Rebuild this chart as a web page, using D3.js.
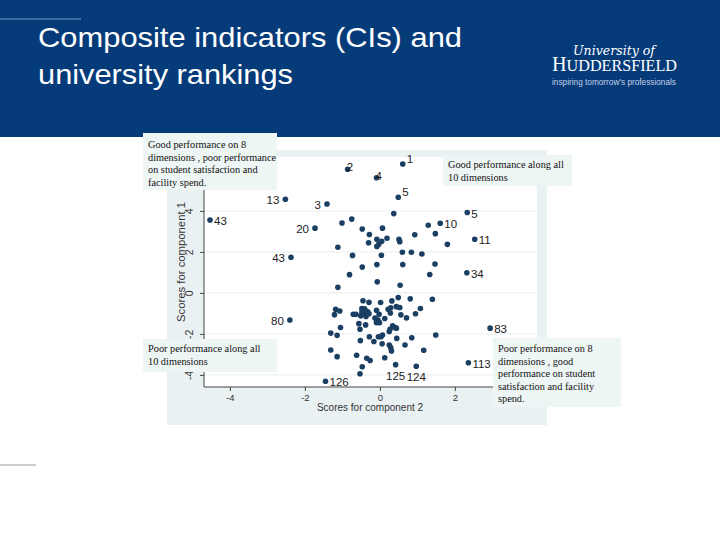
<!DOCTYPE html>
<html>
<head>
<meta charset="utf-8">
<script src="https://cdn.jsdelivr.net/npm/d3@7"></script>
<style>
  body { margin: 0; background: #fff; }
  text { font-family: Arial, "Liberation Sans", sans-serif; }
  .note { font-family: "Times New Roman", "Liberation Serif", serif; font-size: 10.3px; fill: #111; }
</style>
</head>
<body>
<script>
//== SLIDE TEXT ==//
const titleLines = ["Composite indicators (CIs) and", "university rankings"];
const xTitle = "Scores for component 2";
const yTitle = "Scores for component 1";
const xTicks = [-4, -2, 0, 2];
const yTicks = [-4, -2, 0, 2, 4];

//== LABELLED UNIVERSITIES (score comp 2, score comp 1) ==//
const labText = ["1", "2", "4", "5", "13", "3", "43", "20", "5", "10", "11", "34", "43", "80", "83", "113", "125", "124", "126"];
const labX = [0.61, -0.86, -0.09, 0.49, -2.52, -1.41, -4.53, -1.73, 2.33, 1.61, 2.53, 2.32, -2.37, -2.40, 2.94, 2.36, 0.42, 0.97, -1.45];
const labY = [6.29, 6.03, 5.62, 4.67, 4.57, 4.34, 3.56, 3.16, 3.92, 3.40, 2.62, 0.98, 1.74, -1.32, -1.72, -3.41, -3.50, -3.58, -4.31];

//== OTHER UNIVERSITIES ==//
const ptX = [-1.01, -0.75, 0.37, 1.29, -0.47, 0.07, -0.28, -0.08, 0.19, 0.05, 0.51, 0.53, 0.93, -1.12, -0.30, -0.08, -0.03, 1.48, 1.80,
  -0.73, 0.04, 0.60, 0.84, 1.12, -0.47, -0.08, 0.61, 1.47, -0.81, 1.33, -0.07, -1.12, 0.54,
  -0.45, -0.29, 0.02, 0.32, 0.49, 0.81, 1.40, -1.18, -1.07, -1.21,
  -0.48, -0.41, -0.36, -0.32, -0.48, -0.40, -0.51, -0.37, -0.29, -0.71, -0.64, -0.09, -0.02,
  0.22, 0.29, 0.44, 0.53, 1.08, 0.28, 0.56, 0.71, 0.95, -0.13, -0.05, -0.09, -0.01, 0.13,
  -0.56, -0.38, 0.34, 0.40, 0.44, 0.27, 0.25, -1.05, -0.53, -1.31, -1.14, 0.07, 0.03, -0.04, -0.28,
  0.45, 0.85, 1.49, -0.52, -0.16, 0.06, 0.25, 0.29, 0.31, 0.67, -1.31, 1.17, -0.62, -1.14, -0.35, -0.26, 0.13, -0.47, -0.53];
const ptY = [3.41, 3.60, 3.87, 3.30, 3.12, 3.16, 2.85, 2.62, 2.67, 2.52, 2.61, 2.50, 2.84, 2.23, 2.45, 2.27, 2.37, 2.89, 2.37,
  1.83, 1.84, 1.98, 1.98, 1.90, 1.26, 1.38, 1.38, 1.41, 0.89, 0.90, 0.54, 0.27, 0.37,
  -0.38, -0.46, -0.47, -0.39, -0.23, -0.29, -0.31, -0.80, -0.88, -1.06,
  -0.76, -0.78, -0.88, -0.93, -0.93, -1.02, -1.12, -1.15, -1.02, -1.04, -1.04, -0.85, -1.04,
  -0.80, -0.73, -0.67, -0.71, -0.76, -0.98, -1.07, -1.22, -1.02, -1.23, -1.33, -1.45, -1.45, -1.25,
  -1.50, -1.56, -1.60, -1.69, -1.72, -1.77, -1.88, -1.69, -1.77, -1.96, -2.07, -2.05, -2.14, -2.14, -2.14,
  -2.22, -2.19, -2.05, -2.33, -2.37, -2.48, -2.54, -2.67, -2.83, -2.54, -2.79, -2.80, -3.04, -3.11, -3.19, -3.30, -3.16, -3.60, -3.94];

//== NOTE BOXES ==//
const noteTopLeft = ["Good performance on 8", "dimensions , poor performance", "on student satisfaction and", "facility spend."];
const noteTopRight = ["Good performance along all", "10 dimensions"];
const noteBottomLeft = ["Poor performance along all", "10 dimensions"];
const noteBottomRight = ["Poor performance on 8", "dimensions , good", "performance on student", "satisfaction and facility", "spend."];

//=SVG AREA=//
const width = 720;
const height = 540;
const svg = d3.select("body").append("svg")
  .attr("width", width)
  .attr("height", height);

//header band
svg.append("rect").attr("x", 0).attr("y", 0).attr("width", width).attr("height", 137).attr("fill", "#063b7a");
svg.append("line").attr("x1", 0).attr("x2", 81).attr("y1", 19).attr("y2", 19)
  .attr("stroke", "#7d9ccc").attr("stroke-width", 1);
svg.append("line").attr("x1", 0).attr("x2", 36).attr("y1", 465).attr("y2", 465)
  .attr("stroke", "#9a9a9a").attr("stroke-width", 1);

const titleWidths = [424, 255];
svg.append("g").selectAll("text")
  .data(titleLines)
  .enter()
  .append("text")
  .attr("x", 38)
  .attr("y", (d, i) => 47 + i * 37)
  .attr("textLength", (d, i) => titleWidths[i])
  .attr("lengthAdjust", "spacingAndGlyphs")
  .attr("fill", "#fff")
  .style("font-size", "28px")
  .text(d => d);

//logo
const logo = svg.append("g").attr("fill", "#fff");
logo.append("text").attr("x", 573).attr("y", 55)
  .attr("textLength", 82).attr("lengthAdjust", "spacingAndGlyphs")
  .style("font-family", "'DejaVu Serif', serif").style("font-style", "italic").style("font-size", "13px")
  .text("University of");
const hud = logo.append("text").attr("x", 552).attr("y", 71)
  .attr("textLength", 125).attr("lengthAdjust", "spacingAndGlyphs")
  .style("font-family", "'Liberation Serif', serif");
hud.append("tspan").style("font-size", "20px").text("H");
hud.append("tspan").style("font-size", "16px").text("UDDERSFIELD");
logo.append("text").attr("x", 552).attr("y", 85)
  .attr("textLength", 124).attr("lengthAdjust", "spacingAndGlyphs")
  .attr("fill", "#c2d0e6").style("font-size", "9px")
  .text("inspiring tomorrow's professionals");

//== STATA-STYLE GRAPH ==//
svg.append("rect").attr("x", 167).attr("y", 150).attr("width", 380).attr("height", 275).attr("fill", "#eaf1f2");
svg.append("rect").attr("x", 204).attr("y", 157).attr("width", 333).attr("height", 230).attr("fill", "#fff");

const x = d3.scaleLinear().domain([-4.69, 4.19]).range([204, 537]);
const y = d3.scaleLinear().domain([-4.59, 6.63]).range([387, 157]);

//gridlines
svg.append("g").selectAll("line")
  .data(yTicks)
  .enter()
  .append("line")
  .attr("x1", 204).attr("x2", 537)
  .attr("y1", d => y(d)).attr("y2", d => y(d))
  .attr("stroke", "#e6eef0").attr("stroke-width", 1);

const xAxis = d3.axisBottom(x).tickValues(xTicks).tickSize(4).tickPadding(3).tickFormat(d => String(d));
const yAxis = d3.axisLeft(y).tickValues(yTicks).tickSize(4).tickPadding(3).tickFormat(d => String(d));

const gx = svg.append("g").attr("transform", "translate(0,387)").call(xAxis);
const gy = svg.append("g").attr("transform", "translate(204,0)").call(yAxis);
gx.select(".domain").attr("d", "M204,0H537");
gy.select(".domain").attr("d", "M0,157V387");
[gx, gy].forEach(g => {
  g.selectAll(".domain, .tick line").attr("stroke", "#444");
  g.selectAll(".tick text").attr("fill", "#333").style("font-size", "9.5px").style("font-family", "Arial, 'Liberation Sans', sans-serif");
});
gy.selectAll(".tick text")
  .attr("transform", "rotate(-90)")
  .attr("x", 0).attr("dx", 0)
  .attr("y", -11).attr("dy", 0)
  .attr("text-anchor", "middle")
  .style("font-size", "10.5px");

svg.append("text").attr("x", 370).attr("y", 411).attr("text-anchor", "middle")
  .attr("fill", "#333").style("font-size", "10px").text(xTitle);
svg.append("text").attr("transform", "translate(185,262) rotate(-90)").attr("text-anchor", "middle")
  .attr("textLength", 120).attr("lengthAdjust", "spacingAndGlyphs")
  .attr("fill", "#333").style("font-size", "10.5px").text(yTitle);

//points
const others = ptX.map((d, i) => ({x: d, y: ptY[i]}));
const named = labX.map((d, i) => ({x: d, y: labY[i], label: labText[i]}));

svg.append("g").selectAll("circle")
  .data(others.concat(named))
  .enter()
  .append("circle")
  .attr("cx", d => x(d.x))
  .attr("cy", d => y(d.y))
  .attr("r", 2.8)
  .attr("fill", "#1a3f63");

//label placement, like mlabvposition (clock positions)
const labClock = [1, 2, 2, 1, 9, 9, 3, 9, 3, 3, 3, 3, 9, 9, 3, 3, 6, 6, 3];
svg.append("g").selectAll("text")
  .data(named)
  .enter()
  .append("text")
  .attr("x", (d, i) => {
    const c = labClock[i];
    if (c === 9) return x(d.x) - 6;
    if (c === 6) return x(d.x);
    if (c === 2) return x(d.x) - 1;
    return x(d.x) + 4;
  })
  .attr("y", (d, i) => {
    const c = labClock[i];
    if (c === 1) return y(d.y) - 5;
    if (c === 2) return y(d.y) - 2;
    if (c === 6) return y(d.y) + 11;
    return y(d.y) + 1;
  })
  .attr("dy", "0.35em")
  .attr("text-anchor", (d, i) => labClock[i] === 9 ? "end" : (labClock[i] === 6 ? "middle" : "start"))
  .attr("fill", "#1b1b1b")
  .style("font-size", "11.5px")
  .text(d => d.label);

//note boxes
function note(lines, bx, by, bw, bh, first) {
  const g = svg.append("g");
  g.append("rect").attr("x", bx).attr("y", by).attr("width", bw).attr("height", bh).attr("fill", "#eef5f5");
  g.selectAll("text")
    .data(lines)
    .enter()
    .append("text")
    .attr("class", "note")
    .attr("x", bx + 5)
    .attr("y", (d, i) => by + first + i * 12.6)
    .text(d => d);
}
note(noteTopLeft, 143, 133, 134, 57, 15);
note(noteTopRight, 443, 155, 129, 31, 13);
note(noteBottomLeft, 143, 339, 134, 33, 13);
note(noteBottomRight, 493, 338, 128, 69, 14);
</script>
</body>
</html>
